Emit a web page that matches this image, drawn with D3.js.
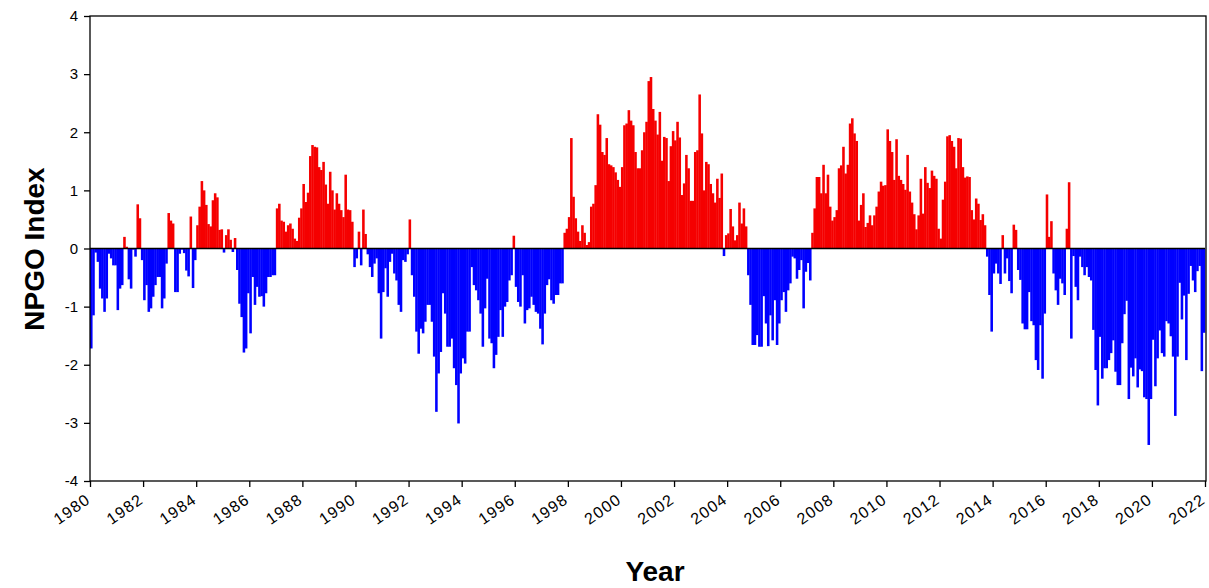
<!DOCTYPE html>
<html>
<head>
<meta charset="utf-8">
<script src="https://cdn.jsdelivr.net/npm/d3@7"></script>
<style>
  body { margin: 0; background: #fff; }
  text { font-family: Arial, "Liberation Sans", sans-serif; }
</style>
</head>
<body>
<svg id="svg"></svg>
<script>
// Monthly NPGO index values, one row per year (Jan..Dec)
const npgo1980s = [
  -1.72, -1.15, -0.07, -0.23, -0.69, -0.86, -1.09, -0.86, -0.09, -0.17, -0.29, -0.29,
  -1.06, -0.69, -0.63, 0.20, 0.03, -0.53, -0.69, -0.02, -0.14, 0.76, 0.52, -0.20,
  -0.89, -0.63, -1.09, -1.03, -0.83, -0.63, -0.49, -0.49, -1.03, -0.86, -0.26, 0.61,
  0.48, 0.43, -0.75, -0.75, -0.09, -0.02, -0.08, -0.38, -0.48, 0.55, -0.68, -0.20,
  0.40, 0.72, 1.16, 1.00, 0.75, 0.42, 0.38, 0.83, 0.95, 0.88, 0.32, 0.33,
  -0.07, 0.23, 0.33, 0.15, -0.06, 0.18, -0.37, -0.95, -1.18, -1.79, -1.72, -0.77,
  -1.46, -0.49, -0.97, -0.66, -0.83, -0.82, -1.00, -0.77, -0.49, -0.49, -0.46, -0.46,
  0.69, 0.77, 0.48, 0.46, 0.29, 0.40, 0.43, 0.34, 0.17, 0.13, 0.53, 0.69,
  1.11, 0.80, 0.96, 1.59, 1.78, 1.75, 1.74, 1.40, 1.35, 1.49, 1.10, 0.77,
  1.32, 1.00, 0.67, 0.95, 0.77, 0.66, 0.54, 1.27, 0.67, 0.66, 0.46, -0.32
];
const npgo1990s = [
  -0.17, 0.29, -0.29, 0.67, 0.25, -0.10, -0.32, -0.49, -0.26, -0.17, -0.77, -1.55,
  -0.75, -0.34, -0.83, -0.23, -0.09, -0.43, -0.55, -0.97, -1.09, -0.20, -0.23, -0.10,
  0.50, -0.46, -0.83, -1.43, -1.81, -1.38, -1.46, -1.26, -0.97, -0.97, -1.26, -1.86,
  -2.81, -2.15, -1.78, -0.77, -1.12, -1.69, -1.69, -1.55, -2.06, -2.35, -3.01, -2.15,
  -1.89, -1.98, -1.43, -1.43, -0.32, -0.63, -0.72, -0.89, -1.12, -1.69, -1.03, -0.52,
  -1.55, -1.63, -2.06, -1.83, -1.52, -1.06, -1.52, -1.00, -0.92, -0.55, -0.46, 0.22,
  -0.66, -0.92, -1.00, -0.46, -1.29, -1.06, -1.03, -0.83, -0.97, -1.09, -1.12, -1.38,
  -1.65, -1.12, -0.63, -0.53, -0.89, -0.95, -0.80, -0.80, -0.60, -0.60, 0.27, 0.34,
  0.54, 1.90, 0.89, 0.52, 0.29, 0.13, 0.40, 0.27, 0.06, 0.11, 0.72, 0.77,
  1.09, 2.31, 2.13, 1.66, 1.61, 1.90, 1.45, 1.43, 1.40, 1.31, 1.18, 1.06
];
const npgo2000s = [
  1.40, 2.12, 2.15, 2.38, 2.20, 2.12, 1.66, 1.38, 1.38, 1.69, 2.00, 2.18,
  2.88, 2.95, 2.40, 2.20, 1.96, 2.35, 1.51, 1.92, 1.90, 1.16, 1.76, 2.02,
  1.86, 2.18, 1.91, 0.92, 1.12, 1.61, 1.38, 0.82, 0.82, 1.66, 1.69, 2.65,
  1.98, 1.00, 1.49, 1.45, 1.11, 0.95, 0.79, 1.20, 0.87, 1.29, -0.13, 0.23,
  0.26, 0.68, 0.38, 0.14, 0.23, 0.79, 0.43, 0.69, 0.38, -0.46, -0.97, -1.66,
  -1.66, -1.49, -1.69, -1.69, -0.82, -1.29, -1.68, -1.15, -1.58, -0.89, -1.66, -1.29,
  -0.89, -0.75, -1.09, -0.72, -0.60, -0.14, -0.17, -0.52, -0.37, -0.20, -1.03, -0.40,
  -0.25, -0.55, 0.27, 0.69, 1.23, 1.23, 0.95, 1.44, 0.95, 1.27, 0.72, 0.48,
  0.54, 0.66, 1.38, 1.43, 1.75, 1.29, 1.44, 2.15, 2.24, 1.98, 1.85, 0.48,
  0.75, 0.95, 0.37, 0.44, 0.57, 0.40, 0.57, 0.72, 0.98, 1.15, 1.08, 1.09
];
const npgo2010s = [
  2.05, 1.85, 1.66, 1.18, 1.88, 1.25, 1.18, 1.11, 1.01, 1.61, 0.98, 0.79,
  0.59, 0.33, 0.57, 1.20, 0.60, 1.40, 1.13, 1.04, 1.34, 1.25, 1.20, 0.34,
  0.17, 0.84, 1.15, 1.93, 1.95, 1.85, 1.75, 1.38, 1.90, 1.89, 1.40, 1.22,
  1.24, 1.23, 0.66, 0.50, 0.86, 0.77, 0.49, 0.59, 0.40, -0.14, -0.80, -1.43,
  -0.43, -0.26, -0.43, -0.61, 0.23, -0.43, -0.17, -0.56, -0.77, 0.41, 0.32, -0.37,
  -0.54, -1.29, -1.39, -1.39, -0.75, -1.25, -1.32, -1.92, -2.09, -1.32, -2.24, -1.12,
  0.93, 0.20, 0.47, -0.43, -0.72, -0.97, -0.52, -0.60, -0.80, 0.34, 1.14, -1.55,
  -0.13, -0.66, -0.89, -0.14, -0.32, -0.46, -0.32, -0.49, -0.55, -1.40, -2.09, -2.70,
  -1.52, -2.24, -2.06, -2.06, -1.92, -1.80, -1.58, -2.12, -2.35, -2.35, -1.63, -1.13,
  -0.90, -2.59, -2.05, -2.20, -1.89, -2.39, -2.08, -2.11, -2.56, -2.59, -3.38, -2.59
];
const npgo2020s = [
  -1.57, -2.37, -1.89, -1.41, -1.80, -1.86, -1.25, -1.29, -1.51, -1.86, -2.88, -1.86,
  -0.59, -1.22, -0.81, -1.92, -0.78, -0.30, -0.55, -0.75, -0.39, -0.30, -2.11, -1.45
];

// Axis tick values
const yTicks = [-4, -3, -2, -1, 0, 1, 2, 3, 4];
const xTicks = d3.range(1980, 2023, 2);

const startYear = 1980;
const values = [].concat(npgo1980s, npgo1990s, npgo2000s, npgo2010s, npgo2020s);

// SVG dimensions
const width = 1209, height = 588;
const margin = { left: 90, right: 1205, top: 16, bottom: 481 };

const svg = d3.select("#svg")
    .attr("width", width)
    .attr("height", height);

const xScale = d3.scaleLinear()
    .domain([1980, 2022])
    .range([margin.left, margin.right]);

const yScale = d3.scaleLinear()
    .domain([-4, 4])
    .range([margin.bottom, margin.top]);

// Bars, red above zero and blue below
svg.append("g")
    .selectAll("rect")
    .data(values)
    .enter()
    .append("rect")
    .attr("x", (d, i) => xScale(startYear + i / 12))
    .attr("width", (d, i) => xScale(startYear + (i + 1) / 12) - xScale(startYear + i / 12) + 0.35)
    .attr("y", (d) => yScale(Math.max(0, d)))
    .attr("height", (d) => Math.abs(yScale(d) - yScale(0)))
    .attr("fill", (d) => d >= 0 ? "#f50000" : "#0000ff");

// Zero line
svg.append("line")
    .attr("x1", margin.left)
    .attr("x2", margin.right)
    .attr("y1", yScale(0))
    .attr("y2", yScale(0))
    .attr("stroke", "#000")
    .attr("stroke-width", 1.5);

// Frame
svg.append("rect")
    .attr("x", margin.left)
    .attr("y", margin.top)
    .attr("width", margin.right - margin.left + 1)
    .attr("height", margin.bottom - margin.top)
    .attr("fill", "none")
    .attr("stroke", "#000")
    .attr("stroke-width", 1.3);

// Y axis
const yAxis = d3.axisLeft(yScale)
    .tickValues(yTicks)
    .tickSize(6)
    .tickPadding(6)
    .tickFormat((d) => String(d));

const yG = svg.append("g")
    .attr("transform", "translate(" + margin.left + ",0)")
    .call(yAxis);
yG.select(".domain").remove();
yG.selectAll("line").attr("stroke-width", 1.3);
yG.selectAll("text")
    .attr("font-size", 15)
    .attr("font-family", "Arial, 'Liberation Sans', sans-serif")
    .attr("fill", "#000");

// X axis
const xAxis = d3.axisBottom(xScale)
    .tickValues(xTicks)
    .tickSize(6)
    .tickFormat(d3.format("d"));

const xG = svg.append("g")
    .attr("transform", "translate(0," + margin.bottom + ")")
    .call(xAxis);
xG.select(".domain").remove();
xG.selectAll("line").attr("stroke-width", 1.3);
xG.selectAll("text")
    .attr("font-size", 16)
    .attr("font-family", "Arial, 'Liberation Sans', sans-serif")
    .attr("letter-spacing", 1.2)
    .attr("fill", "#000")
    .attr("text-anchor", "end")
    .attr("dy", null)
    .attr("y", 0)
    .attr("transform", "translate(1,21) rotate(-35)");

// Axis titles
svg.append("text")
    .attr("transform", "translate(44,249) rotate(-90)")
    .attr("text-anchor", "middle")
    .attr("font-size", 28)
    .attr("font-weight", "bold")
    .text("NPGO Index");

svg.append("text")
    .attr("x", 655)
    .attr("y", 581)
    .attr("text-anchor", "middle")
    .attr("font-size", 28)
    .attr("font-weight", "bold")
    .text("Year");
</script>
</body>
</html>
